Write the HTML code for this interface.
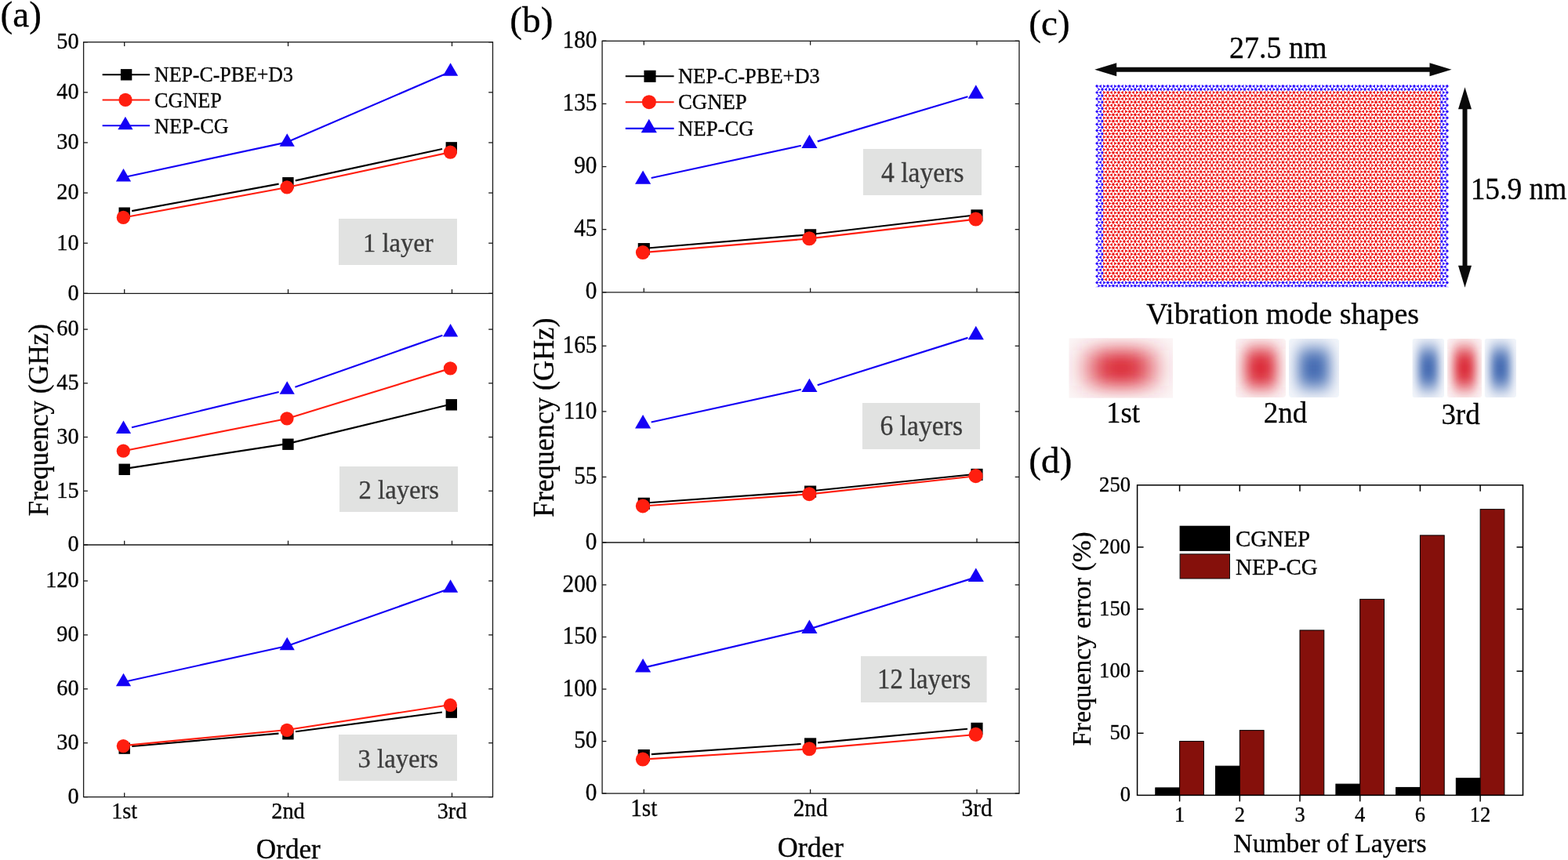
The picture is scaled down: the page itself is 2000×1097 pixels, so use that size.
<!DOCTYPE html>
<html><head><meta charset="utf-8"><title>Figure</title>
<style>html,body{margin:0;padding:0;background:#fff;}svg{display:block}text{font-family:"Liberation Serif", serif;stroke-width:0.3px;paint-order:stroke fill;}</style></head>
<body><svg width="2000" height="1097" viewBox="0 0 2000 1097">
<rect width="2000" height="1097" fill="#fff"/>
<defs><path id="lrow" d="M0.00,2.64v2.80M2.28,1.32l2.42,1.40M2.28,-1.32l2.42,-1.40M-4.70,-2.72l2.42,1.40M-4.70,2.72l2.42,-1.40M13.96,2.64v2.80M16.24,1.32l2.42,1.40M16.24,-1.32l2.42,-1.40M9.26,-2.72l2.42,1.40M9.26,2.72l2.42,-1.40M27.92,2.64v2.80M30.20,1.32l2.42,1.40M30.20,-1.32l2.42,-1.40M23.22,-2.72l2.42,1.40M23.22,2.72l2.42,-1.40M41.89,2.64v2.80M44.16,1.32l2.42,1.40M44.16,-1.32l2.42,-1.40M37.18,-2.72l2.42,1.40M37.18,2.72l2.42,-1.40M55.85,2.64v2.80M58.13,1.32l2.42,1.40M58.13,-1.32l2.42,-1.40M51.15,-2.72l2.42,1.40M51.15,2.72l2.42,-1.40M69.81,2.64v2.80M72.09,1.32l2.42,1.40M72.09,-1.32l2.42,-1.40M65.11,-2.72l2.42,1.40M65.11,2.72l2.42,-1.40M83.77,2.64v2.80M86.05,1.32l2.42,1.40M86.05,-1.32l2.42,-1.40M79.07,-2.72l2.42,1.40M79.07,2.72l2.42,-1.40M97.73,2.64v2.80M100.01,1.32l2.42,1.40M100.01,-1.32l2.42,-1.40M93.03,-2.72l2.42,1.40M93.03,2.72l2.42,-1.40M111.70,2.64v2.80M113.97,1.32l2.42,1.40M113.97,-1.32l2.42,-1.40M106.99,-2.72l2.42,1.40M106.99,2.72l2.42,-1.40M125.66,2.64v2.80M127.94,1.32l2.42,1.40M127.94,-1.32l2.42,-1.40M120.96,-2.72l2.42,1.40M120.96,2.72l2.42,-1.40M139.62,2.64v2.80M141.90,1.32l2.42,1.40M141.90,-1.32l2.42,-1.40M134.92,-2.72l2.42,1.40M134.92,2.72l2.42,-1.40M153.58,2.64v2.80M155.86,1.32l2.42,1.40M155.86,-1.32l2.42,-1.40M148.88,-2.72l2.42,1.40M148.88,2.72l2.42,-1.40M167.54,2.64v2.80M169.82,1.32l2.42,1.40M169.82,-1.32l2.42,-1.40M162.84,-2.72l2.42,1.40M162.84,2.72l2.42,-1.40M181.51,2.64v2.80M183.78,1.32l2.42,1.40M183.78,-1.32l2.42,-1.40M176.80,-2.72l2.42,1.40M176.80,2.72l2.42,-1.40M195.47,2.64v2.80M197.75,1.32l2.42,1.40M197.75,-1.32l2.42,-1.40M190.77,-2.72l2.42,1.40M190.77,2.72l2.42,-1.40M209.43,2.64v2.80M211.71,1.32l2.42,1.40M211.71,-1.32l2.42,-1.40M204.73,-2.72l2.42,1.40M204.73,2.72l2.42,-1.40M223.39,2.64v2.80M225.67,1.32l2.42,1.40M225.67,-1.32l2.42,-1.40M218.69,-2.72l2.42,1.40M218.69,2.72l2.42,-1.40M237.35,2.64v2.80M239.63,1.32l2.42,1.40M239.63,-1.32l2.42,-1.40M232.65,-2.72l2.42,1.40M232.65,2.72l2.42,-1.40M251.32,2.64v2.80M253.59,1.32l2.42,1.40M253.59,-1.32l2.42,-1.40M246.61,-2.72l2.42,1.40M246.61,2.72l2.42,-1.40M265.28,2.64v2.80M267.56,1.32l2.42,1.40M267.56,-1.32l2.42,-1.40M260.58,-2.72l2.42,1.40M260.58,2.72l2.42,-1.40M279.24,2.64v2.80M281.52,1.32l2.42,1.40M281.52,-1.32l2.42,-1.40M274.54,-2.72l2.42,1.40M274.54,2.72l2.42,-1.40M293.20,2.64v2.80M295.48,1.32l2.42,1.40M295.48,-1.32l2.42,-1.40M288.50,-2.72l2.42,1.40M288.50,2.72l2.42,-1.40M307.16,2.64v2.80M309.44,1.32l2.42,1.40M309.44,-1.32l2.42,-1.40M302.46,-2.72l2.42,1.40M302.46,2.72l2.42,-1.40M321.13,2.64v2.80M323.40,1.32l2.42,1.40M323.40,-1.32l2.42,-1.40M316.42,-2.72l2.42,1.40M316.42,2.72l2.42,-1.40M335.09,2.64v2.80M337.37,1.32l2.42,1.40M337.37,-1.32l2.42,-1.40M330.39,-2.72l2.42,1.40M330.39,2.72l2.42,-1.40M349.05,2.64v2.80M351.33,1.32l2.42,1.40M351.33,-1.32l2.42,-1.40M344.35,-2.72l2.42,1.40M344.35,2.72l2.42,-1.40M363.01,2.64v2.80M365.29,1.32l2.42,1.40M365.29,-1.32l2.42,-1.40M358.31,-2.72l2.42,1.40M358.31,2.72l2.42,-1.40M376.97,2.64v2.80M379.25,1.32l2.42,1.40M379.25,-1.32l2.42,-1.40M372.27,-2.72l2.42,1.40M372.27,2.72l2.42,-1.40M390.94,2.64v2.80M393.21,1.32l2.42,1.40M393.21,-1.32l2.42,-1.40M386.23,-2.72l2.42,1.40M386.23,2.72l2.42,-1.40M404.90,2.64v2.80M407.18,1.32l2.42,1.40M407.18,-1.32l2.42,-1.40M400.20,-2.72l2.42,1.40M400.20,2.72l2.42,-1.40M418.86,2.64v2.80M421.14,1.32l2.42,1.40M421.14,-1.32l2.42,-1.40M414.16,-2.72l2.42,1.40M414.16,2.72l2.42,-1.40M432.82,2.64v2.80M435.10,1.32l2.42,1.40M435.10,-1.32l2.42,-1.40M428.12,-2.72l2.42,1.40M428.12,2.72l2.42,-1.40M446.78,2.64v2.80M449.06,1.32l2.42,1.40M449.06,-1.32l2.42,-1.40M442.08,-2.72l2.42,1.40M442.08,2.72l2.42,-1.40M460.75,2.64v2.80M463.02,1.32l2.42,1.40M463.02,-1.32l2.42,-1.40M456.04,-2.72l2.42,1.40M456.04,2.72l2.42,-1.40M474.71,2.64v2.80M476.99,1.32l2.42,1.40M476.99,-1.32l2.42,-1.40M470.01,-2.72l2.42,1.40M470.01,2.72l2.42,-1.40M488.67,2.64v2.80M490.95,1.32l2.42,1.40M490.95,-1.32l2.42,-1.40M483.97,-2.72l2.42,1.40M483.97,2.72l2.42,-1.40" stroke="#fff" stroke-width="2.35" stroke-linecap="round" fill="none"/><clipPath id="lclip"><polygon points="1397.00,107.90 1848.30,107.90 1848.30,109.95 1844.10,113.99 1848.30,118.03 1844.10,122.08 1848.30,126.12 1844.10,130.16 1848.30,134.20 1844.10,138.24 1848.30,142.29 1844.10,146.33 1848.30,150.37 1844.10,154.41 1848.30,158.45 1844.10,162.50 1848.30,166.54 1844.10,170.58 1848.30,174.62 1844.10,178.66 1848.30,182.71 1844.10,186.75 1848.30,190.79 1844.10,194.83 1848.30,198.87 1844.10,202.92 1848.30,206.96 1844.10,211.00 1848.30,215.04 1844.10,219.08 1848.30,223.13 1844.10,227.17 1848.30,231.21 1844.10,235.25 1848.30,239.29 1844.10,243.34 1848.30,247.38 1844.10,251.42 1848.30,255.46 1844.10,259.50 1848.30,263.55 1844.10,267.59 1848.30,271.63 1844.10,275.67 1848.30,279.71 1844.10,283.76 1848.30,287.80 1844.10,291.84 1848.30,295.88 1844.10,299.92 1848.30,303.97 1844.10,308.01 1848.30,312.05 1844.10,316.09 1848.30,320.13 1844.10,324.18 1848.30,328.22 1844.10,332.26 1848.30,336.30 1844.10,340.34 1848.30,344.39 1844.10,348.43 1848.30,352.47 1844.10,356.51 1848.30,360.55 1844.10,364.60 1848.30,366.50 1397.00,366.50 1401.20,364.60 1397.00,360.55 1401.20,356.51 1397.00,352.47 1401.20,348.43 1397.00,344.39 1401.20,340.34 1397.00,336.30 1401.20,332.26 1397.00,328.22 1401.20,324.18 1397.00,320.13 1401.20,316.09 1397.00,312.05 1401.20,308.01 1397.00,303.97 1401.20,299.92 1397.00,295.88 1401.20,291.84 1397.00,287.80 1401.20,283.76 1397.00,279.71 1401.20,275.67 1397.00,271.63 1401.20,267.59 1397.00,263.55 1401.20,259.50 1397.00,255.46 1401.20,251.42 1397.00,247.38 1401.20,243.34 1397.00,239.29 1401.20,235.25 1397.00,231.21 1401.20,227.17 1397.00,223.13 1401.20,219.08 1397.00,215.04 1401.20,211.00 1397.00,206.96 1401.20,202.92 1397.00,198.87 1401.20,194.83 1397.00,190.79 1401.20,186.75 1397.00,182.71 1401.20,178.66 1397.00,174.62 1401.20,170.58 1397.00,166.54 1401.20,162.50 1397.00,158.45 1401.20,154.41 1397.00,150.37 1401.20,146.33 1397.00,142.29 1401.20,138.24 1397.00,134.20 1401.20,130.16 1397.00,126.12 1401.20,122.08 1397.00,118.03 1401.20,113.99 1397.00,109.95"/></clipPath><path id="lrow2" d="M6.98,6.68v2.80M20.94,6.68v2.80M34.91,6.68v2.80M48.87,6.68v2.80M62.83,6.68v2.80M76.79,6.68v2.80M90.75,6.68v2.80M104.71,6.68v2.80M118.68,6.68v2.80M132.64,6.68v2.80M146.60,6.68v2.80M160.56,6.68v2.80M174.52,6.68v2.80M188.49,6.68v2.80M202.45,6.68v2.80M216.41,6.68v2.80M230.37,6.68v2.80M244.33,6.68v2.80M258.30,6.68v2.80M272.26,6.68v2.80M286.22,6.68v2.80M300.18,6.68v2.80M314.14,6.68v2.80M328.11,6.68v2.80M342.07,6.68v2.80M356.03,6.68v2.80M369.99,6.68v2.80M383.95,6.68v2.80M397.92,6.68v2.80M411.88,6.68v2.80M425.84,6.68v2.80M439.80,6.68v2.80M453.76,6.68v2.80M467.73,6.68v2.80M481.69,6.68v2.80M495.65,6.68v2.80" stroke="#fff" stroke-width="2.35" stroke-linecap="round" fill="none"/><clipPath id="bc1"><rect x="1363.3" y="431.3" width="132.70" height="76.50" rx="0"/></clipPath><filter id="bf1" filterUnits="userSpaceOnUse" x="1343.3" y="411.3" width="172.70" height="116.50"><feGaussianBlur stdDeviation="17.25 12.24"/></filter><clipPath id="bc2"><rect x="1576" y="432" width="64.00" height="75.00" rx="4"/></clipPath><filter id="bf2" filterUnits="userSpaceOnUse" x="1556" y="412" width="104.00" height="115.00"><feGaussianBlur stdDeviation="9.28 11.25"/></filter><clipPath id="bc3"><rect x="1644" y="432" width="64.00" height="75.00" rx="4"/></clipPath><filter id="bf3" filterUnits="userSpaceOnUse" x="1624" y="412" width="104.00" height="115.00"><feGaussianBlur stdDeviation="9.28 11.25"/></filter><clipPath id="bc4"><rect x="1801.4" y="432" width="40.60" height="75.00" rx="3"/></clipPath><filter id="bf4" filterUnits="userSpaceOnUse" x="1781.4" y="412" width="80.60" height="115.00"><feGaussianBlur stdDeviation="5.89 11.25"/></filter><clipPath id="bc5"><rect x="1846" y="432" width="44.00" height="75.00" rx="3"/></clipPath><filter id="bf5" filterUnits="userSpaceOnUse" x="1826" y="412" width="84.00" height="115.00"><feGaussianBlur stdDeviation="6.38 11.25"/></filter><clipPath id="bc6"><rect x="1893.6" y="432" width="40.40" height="75.00" rx="3"/></clipPath><filter id="bf6" filterUnits="userSpaceOnUse" x="1873.6" y="412" width="80.40" height="115.00"><feGaussianBlur stdDeviation="5.86 11.25"/></filter></defs>
<line x1="106.60" y1="374.30" x2="111.90" y2="374.30" stroke="#1a1a1a" stroke-width="1.3" />
<line x1="623.20" y1="374.30" x2="628.50" y2="374.30" stroke="#1a1a1a" stroke-width="1.3" />
<text transform="translate(100.60,382.64) scale(0.96,1)" font-size="29.5" text-anchor="end" fill="#000" stroke="#000" >0</text>
<line x1="106.60" y1="310.18" x2="111.90" y2="310.18" stroke="#1a1a1a" stroke-width="1.3" />
<line x1="623.20" y1="310.18" x2="628.50" y2="310.18" stroke="#1a1a1a" stroke-width="1.3" />
<text transform="translate(100.60,318.52) scale(0.96,1)" font-size="29.5" text-anchor="end" fill="#000" stroke="#000" >10</text>
<line x1="106.60" y1="246.06" x2="111.90" y2="246.06" stroke="#1a1a1a" stroke-width="1.3" />
<line x1="623.20" y1="246.06" x2="628.50" y2="246.06" stroke="#1a1a1a" stroke-width="1.3" />
<text transform="translate(100.60,254.40) scale(0.96,1)" font-size="29.5" text-anchor="end" fill="#000" stroke="#000" >20</text>
<line x1="106.60" y1="181.94" x2="111.90" y2="181.94" stroke="#1a1a1a" stroke-width="1.3" />
<line x1="623.20" y1="181.94" x2="628.50" y2="181.94" stroke="#1a1a1a" stroke-width="1.3" />
<text transform="translate(100.60,190.28) scale(0.96,1)" font-size="29.5" text-anchor="end" fill="#000" stroke="#000" >30</text>
<line x1="106.60" y1="117.82" x2="111.90" y2="117.82" stroke="#1a1a1a" stroke-width="1.3" />
<line x1="623.20" y1="117.82" x2="628.50" y2="117.82" stroke="#1a1a1a" stroke-width="1.3" />
<text transform="translate(100.60,126.15) scale(0.96,1)" font-size="29.5" text-anchor="end" fill="#000" stroke="#000" >40</text>
<line x1="106.60" y1="53.70" x2="111.90" y2="53.70" stroke="#1a1a1a" stroke-width="1.3" />
<line x1="623.20" y1="53.70" x2="628.50" y2="53.70" stroke="#1a1a1a" stroke-width="1.3" />
<text transform="translate(100.60,62.03) scale(0.96,1)" font-size="29.5" text-anchor="end" fill="#000" stroke="#000" >50</text>
<line x1="158.70" y1="369.00" x2="158.70" y2="374.30" stroke="#1a1a1a" stroke-width="1.3" />
<line x1="158.70" y1="53.70" x2="158.70" y2="59.00" stroke="#1a1a1a" stroke-width="1.3" />
<line x1="367.50" y1="369.00" x2="367.50" y2="374.30" stroke="#1a1a1a" stroke-width="1.3" />
<line x1="367.50" y1="53.70" x2="367.50" y2="59.00" stroke="#1a1a1a" stroke-width="1.3" />
<line x1="576.50" y1="369.00" x2="576.50" y2="374.30" stroke="#1a1a1a" stroke-width="1.3" />
<line x1="576.50" y1="53.70" x2="576.50" y2="59.00" stroke="#1a1a1a" stroke-width="1.3" />
<line x1="168.12" y1="269.15" x2="355.58" y2="234.59" stroke="#000" stroke-width="2.15" />
<line x1="376.76" y1="230.36" x2="564.04" y2="190.03" stroke="#000" stroke-width="2.15" />
<rect x="151.50" y="264.51" width="14.40" height="14.40" fill="#000"/>
<rect x="360.20" y="226.04" width="14.40" height="14.40" fill="#000"/>
<rect x="568.60" y="181.15" width="14.40" height="14.40" fill="#000"/>
<line x1="157.50" y1="277.52" x2="366.20" y2="239.05" stroke="#ff1e0f" stroke-width="2.15" />
<line x1="366.20" y1="239.05" x2="574.60" y2="194.16" stroke="#ff1e0f" stroke-width="2.15" />
<circle cx="157.30" cy="277.42" r="8.60" fill="#ff1e0f"/>
<circle cx="366.00" cy="238.95" r="8.60" fill="#ff1e0f"/>
<circle cx="574.40" cy="194.06" r="8.60" fill="#ff1e0f"/>
<line x1="157.50" y1="226.22" x2="366.20" y2="181.34" stroke="#1400f5" stroke-width="2.15" />
<line x1="366.20" y1="181.34" x2="574.60" y2="91.57" stroke="#1400f5" stroke-width="2.15" />
<polygon points="157.50,215.02 167.10,231.52 147.90,231.52" fill="#1400f5"/>
<polygon points="366.20,170.14 375.80,186.64 356.60,186.64" fill="#1400f5"/>
<polygon points="574.60,80.37 584.20,96.87 565.00,96.87" fill="#1400f5"/>
<rect x="432" y="279" width="151" height="59" fill="#e1e2e1"/>
<text transform="translate(507.80,320.50) scale(0.96,1)" font-size="34" text-anchor="middle" fill="#3c3c3c" stroke="#3c3c3c" >1 layer</text>
<line x1="106.60" y1="695.00" x2="111.90" y2="695.00" stroke="#1a1a1a" stroke-width="1.3" />
<line x1="623.20" y1="695.00" x2="628.50" y2="695.00" stroke="#1a1a1a" stroke-width="1.3" />
<text transform="translate(100.60,703.34) scale(0.96,1)" font-size="29.5" text-anchor="end" fill="#000" stroke="#000" >0</text>
<line x1="106.60" y1="626.27" x2="111.90" y2="626.27" stroke="#1a1a1a" stroke-width="1.3" />
<line x1="623.20" y1="626.27" x2="628.50" y2="626.27" stroke="#1a1a1a" stroke-width="1.3" />
<text transform="translate(100.60,634.61) scale(0.96,1)" font-size="29.5" text-anchor="end" fill="#000" stroke="#000" >15</text>
<line x1="106.60" y1="557.55" x2="111.90" y2="557.55" stroke="#1a1a1a" stroke-width="1.3" />
<line x1="623.20" y1="557.55" x2="628.50" y2="557.55" stroke="#1a1a1a" stroke-width="1.3" />
<text transform="translate(100.60,565.88) scale(0.96,1)" font-size="29.5" text-anchor="end" fill="#000" stroke="#000" >30</text>
<line x1="106.60" y1="488.83" x2="111.90" y2="488.83" stroke="#1a1a1a" stroke-width="1.3" />
<line x1="623.20" y1="488.83" x2="628.50" y2="488.83" stroke="#1a1a1a" stroke-width="1.3" />
<text transform="translate(100.60,497.16) scale(0.96,1)" font-size="29.5" text-anchor="end" fill="#000" stroke="#000" >45</text>
<line x1="106.60" y1="420.10" x2="111.90" y2="420.10" stroke="#1a1a1a" stroke-width="1.3" />
<line x1="623.20" y1="420.10" x2="628.50" y2="420.10" stroke="#1a1a1a" stroke-width="1.3" />
<text transform="translate(100.60,428.44) scale(0.96,1)" font-size="29.5" text-anchor="end" fill="#000" stroke="#000" >60</text>
<line x1="158.70" y1="689.70" x2="158.70" y2="695.00" stroke="#1a1a1a" stroke-width="1.3" />
<line x1="367.50" y1="689.70" x2="367.50" y2="695.00" stroke="#1a1a1a" stroke-width="1.3" />
<line x1="576.50" y1="689.70" x2="576.50" y2="695.00" stroke="#1a1a1a" stroke-width="1.3" />
<line x1="157.50" y1="598.18" x2="366.20" y2="566.11" stroke="#000" stroke-width="2.15" />
<line x1="366.20" y1="566.11" x2="574.60" y2="515.72" stroke="#000" stroke-width="2.15" />
<rect x="151.50" y="591.58" width="14.40" height="14.40" fill="#000"/>
<rect x="360.20" y="559.51" width="14.40" height="14.40" fill="#000"/>
<rect x="568.60" y="509.12" width="14.40" height="14.40" fill="#000"/>
<line x1="157.50" y1="575.28" x2="366.20" y2="534.04" stroke="#ff1e0f" stroke-width="2.15" />
<line x1="366.20" y1="534.04" x2="574.60" y2="469.90" stroke="#ff1e0f" stroke-width="2.15" />
<circle cx="157.30" cy="575.18" r="8.60" fill="#ff1e0f"/>
<circle cx="366.00" cy="533.94" r="8.60" fill="#ff1e0f"/>
<circle cx="574.40" cy="469.80" r="8.60" fill="#ff1e0f"/>
<line x1="168.00" y1="545.25" x2="355.70" y2="499.92" stroke="#1400f5" stroke-width="2.15" />
<line x1="376.39" y1="493.80" x2="564.41" y2="427.67" stroke="#1400f5" stroke-width="2.15" />
<polygon points="157.50,536.59 167.10,553.09 147.90,553.09" fill="#1400f5"/>
<polygon points="366.20,486.19 375.80,502.69 356.60,502.69" fill="#1400f5"/>
<polygon points="574.60,412.88 584.20,429.38 565.00,429.38" fill="#1400f5"/>
<rect x="433" y="595" width="151" height="58" fill="#e1e2e1"/>
<text transform="translate(508.80,636.00) scale(0.96,1)" font-size="34" text-anchor="middle" fill="#3c3c3c" stroke="#3c3c3c" >2 layers</text>
<line x1="106.60" y1="1016.60" x2="111.90" y2="1016.60" stroke="#1a1a1a" stroke-width="1.3" />
<line x1="623.20" y1="1016.60" x2="628.50" y2="1016.60" stroke="#1a1a1a" stroke-width="1.3" />
<text transform="translate(100.60,1024.93) scale(0.96,1)" font-size="29.5" text-anchor="end" fill="#000" stroke="#000" >0</text>
<line x1="106.60" y1="947.70" x2="111.90" y2="947.70" stroke="#1a1a1a" stroke-width="1.3" />
<line x1="623.20" y1="947.70" x2="628.50" y2="947.70" stroke="#1a1a1a" stroke-width="1.3" />
<text transform="translate(100.60,956.04) scale(0.96,1)" font-size="29.5" text-anchor="end" fill="#000" stroke="#000" >30</text>
<line x1="106.60" y1="878.80" x2="111.90" y2="878.80" stroke="#1a1a1a" stroke-width="1.3" />
<line x1="623.20" y1="878.80" x2="628.50" y2="878.80" stroke="#1a1a1a" stroke-width="1.3" />
<text transform="translate(100.60,887.13) scale(0.96,1)" font-size="29.5" text-anchor="end" fill="#000" stroke="#000" >60</text>
<line x1="106.60" y1="809.90" x2="111.90" y2="809.90" stroke="#1a1a1a" stroke-width="1.3" />
<line x1="623.20" y1="809.90" x2="628.50" y2="809.90" stroke="#1a1a1a" stroke-width="1.3" />
<text transform="translate(100.60,818.24) scale(0.96,1)" font-size="29.5" text-anchor="end" fill="#000" stroke="#000" >90</text>
<line x1="106.60" y1="741.00" x2="111.90" y2="741.00" stroke="#1a1a1a" stroke-width="1.3" />
<line x1="623.20" y1="741.00" x2="628.50" y2="741.00" stroke="#1a1a1a" stroke-width="1.3" />
<text transform="translate(100.60,749.34) scale(0.96,1)" font-size="29.5" text-anchor="end" fill="#000" stroke="#000" >120</text>
<line x1="158.70" y1="1011.30" x2="158.70" y2="1016.60" stroke="#1a1a1a" stroke-width="1.3" />
<line x1="367.50" y1="1011.30" x2="367.50" y2="1016.60" stroke="#1a1a1a" stroke-width="1.3" />
<line x1="576.50" y1="1011.30" x2="576.50" y2="1016.60" stroke="#1a1a1a" stroke-width="1.3" />
<line x1="168.26" y1="952.04" x2="355.44" y2="935.56" stroke="#000" stroke-width="2.15" />
<line x1="376.91" y1="933.20" x2="563.89" y2="908.47" stroke="#000" stroke-width="2.15" />
<rect x="151.50" y="947.39" width="14.40" height="14.40" fill="#000"/>
<rect x="360.20" y="929.02" width="14.40" height="14.40" fill="#000"/>
<rect x="568.60" y="901.46" width="14.40" height="14.40" fill="#000"/>
<line x1="157.50" y1="951.19" x2="366.20" y2="930.98" stroke="#ff1e0f" stroke-width="2.15" />
<line x1="366.20" y1="930.98" x2="574.60" y2="899.06" stroke="#ff1e0f" stroke-width="2.15" />
<circle cx="157.30" cy="951.59" r="8.60" fill="#ff1e0f"/>
<circle cx="366.00" cy="931.38" r="8.60" fill="#ff1e0f"/>
<circle cx="574.40" cy="899.46" r="8.60" fill="#ff1e0f"/>
<line x1="157.50" y1="869.93" x2="366.20" y2="824.00" stroke="#1400f5" stroke-width="2.15" />
<line x1="366.20" y1="824.00" x2="574.60" y2="750.51" stroke="#1400f5" stroke-width="2.15" />
<polygon points="157.50,858.73 167.10,875.23 147.90,875.23" fill="#1400f5"/>
<polygon points="366.20,812.80 375.80,829.30 356.60,829.30" fill="#1400f5"/>
<polygon points="574.60,739.31 584.20,755.81 565.00,755.81" fill="#1400f5"/>
<rect x="432" y="937" width="151" height="59" fill="#e1e2e1"/>
<text transform="translate(507.80,978.50) scale(0.96,1)" font-size="34" text-anchor="middle" fill="#3c3c3c" stroke="#3c3c3c" >3 layers</text>
<rect x="106.6" y="53.7" width="521.9" height="962.9" fill="none" stroke="#1a1a1a" stroke-width="1.3"/>
<line x1="106.60" y1="374.30" x2="628.50" y2="374.30" stroke="#1a1a1a" stroke-width="1.3" />
<line x1="106.60" y1="695.00" x2="628.50" y2="695.00" stroke="#1a1a1a" stroke-width="1.3" />
<text transform="translate(158.70,1044.40) scale(0.96,1)" font-size="29.5" text-anchor="middle" fill="#000" stroke="#000" >1st</text>
<text transform="translate(367.50,1044.40) scale(0.96,1)" font-size="29.5" text-anchor="middle" fill="#000" stroke="#000" >2nd</text>
<text transform="translate(576.50,1044.40) scale(0.96,1)" font-size="29.5" text-anchor="middle" fill="#000" stroke="#000" >3rd</text>
<text transform="translate(367.80,1094.70) scale(0.99,1)" font-size="35.5" text-anchor="middle" fill="#000" stroke="#000" >Order</text>
<text transform="translate(61,535.7) rotate(-90) scale(0.956,1)" font-size="36.5" text-anchor="middle" stroke="#000">Frequency (GHz)</text>
<line x1="130.60" y1="95.30" x2="191.00" y2="95.30" stroke="#000" stroke-width="2.1" />
<rect x="153.90" y="88.10" width="14.40" height="14.40" fill="#000"/>
<text transform="translate(197.00,104.01) scale(0.947,1)" font-size="27.3" text-anchor="start" fill="#000" stroke="#000" >NEP-C-PBE+D3</text>
<line x1="130.60" y1="127.50" x2="191.00" y2="127.50" stroke="#ff1e0f" stroke-width="2.1" />
<circle cx="160.00" cy="127.40" r="8.60" fill="#ff1e0f"/>
<text transform="translate(197.00,136.61) scale(0.96,1)" font-size="27.3" text-anchor="start" fill="#000" stroke="#000" >CGNEP</text>
<line x1="130.60" y1="160.30" x2="191.00" y2="160.30" stroke="#1400f5" stroke-width="2.1" />
<polygon points="159.90,148.80 169.50,165.30 150.30,165.30" fill="#1400f5"/>
<text transform="translate(197.00,169.71) scale(0.96,1)" font-size="27.3" text-anchor="start" fill="#000" stroke="#000" >NEP-CG</text>
<text transform="translate(0.50,34.20) scale(1.01,1)" font-size="46.8" text-anchor="start" fill="#000" stroke="#000" >(a)</text>
<line x1="768.10" y1="372.80" x2="773.40" y2="372.80" stroke="#1a1a1a" stroke-width="1.3" />
<line x1="1294.70" y1="372.80" x2="1300.00" y2="372.80" stroke="#1a1a1a" stroke-width="1.3" />
<text transform="translate(761.50,381.47) scale(0.96,1)" font-size="30.5" text-anchor="end" fill="#000" stroke="#000" >0</text>
<line x1="768.10" y1="292.68" x2="773.40" y2="292.68" stroke="#1a1a1a" stroke-width="1.3" />
<line x1="1294.70" y1="292.68" x2="1300.00" y2="292.68" stroke="#1a1a1a" stroke-width="1.3" />
<text transform="translate(761.50,301.34) scale(0.96,1)" font-size="30.5" text-anchor="end" fill="#000" stroke="#000" >45</text>
<line x1="768.10" y1="212.55" x2="773.40" y2="212.55" stroke="#1a1a1a" stroke-width="1.3" />
<line x1="1294.70" y1="212.55" x2="1300.00" y2="212.55" stroke="#1a1a1a" stroke-width="1.3" />
<text transform="translate(761.50,221.22) scale(0.96,1)" font-size="30.5" text-anchor="end" fill="#000" stroke="#000" >90</text>
<line x1="768.10" y1="132.43" x2="773.40" y2="132.43" stroke="#1a1a1a" stroke-width="1.3" />
<line x1="1294.70" y1="132.43" x2="1300.00" y2="132.43" stroke="#1a1a1a" stroke-width="1.3" />
<text transform="translate(761.50,141.09) scale(0.96,1)" font-size="30.5" text-anchor="end" fill="#000" stroke="#000" >135</text>
<line x1="768.10" y1="52.30" x2="773.40" y2="52.30" stroke="#1a1a1a" stroke-width="1.3" />
<line x1="1294.70" y1="52.30" x2="1300.00" y2="52.30" stroke="#1a1a1a" stroke-width="1.3" />
<text transform="translate(761.50,60.97) scale(0.96,1)" font-size="30.5" text-anchor="end" fill="#000" stroke="#000" >180</text>
<line x1="821.30" y1="367.50" x2="821.30" y2="372.80" stroke="#1a1a1a" stroke-width="1.3" />
<line x1="821.30" y1="52.30" x2="821.30" y2="57.60" stroke="#1a1a1a" stroke-width="1.3" />
<line x1="1033.60" y1="367.50" x2="1033.60" y2="372.80" stroke="#1a1a1a" stroke-width="1.3" />
<line x1="1033.60" y1="52.30" x2="1033.60" y2="57.60" stroke="#1a1a1a" stroke-width="1.3" />
<line x1="1246.00" y1="367.50" x2="1246.00" y2="372.80" stroke="#1a1a1a" stroke-width="1.3" />
<line x1="1246.00" y1="52.30" x2="1246.00" y2="57.60" stroke="#1a1a1a" stroke-width="1.3" />
<line x1="820.10" y1="317.00" x2="1032.40" y2="299.20" stroke="#000" stroke-width="2.15" />
<line x1="1032.40" y1="299.20" x2="1244.80" y2="274.27" stroke="#000" stroke-width="2.15" />
<rect x="813.74" y="310.04" width="15.12" height="15.12" fill="#000"/>
<rect x="1026.04" y="292.24" width="15.12" height="15.12" fill="#000"/>
<rect x="1238.44" y="267.31" width="15.12" height="15.12" fill="#000"/>
<line x1="820.10" y1="322.17" x2="1032.40" y2="304.36" stroke="#ff1e0f" stroke-width="2.15" />
<line x1="1032.40" y1="304.36" x2="1244.80" y2="279.61" stroke="#ff1e0f" stroke-width="2.15" />
<circle cx="819.90" cy="322.07" r="9.03" fill="#ff1e0f"/>
<circle cx="1032.20" cy="304.26" r="9.03" fill="#ff1e0f"/>
<circle cx="1244.60" cy="279.51" r="9.03" fill="#ff1e0f"/>
<line x1="830.66" y1="226.95" x2="1021.84" y2="185.74" stroke="#1400f5" stroke-width="2.15" />
<line x1="1042.75" y1="180.37" x2="1234.45" y2="123.16" stroke="#1400f5" stroke-width="2.15" />
<polygon points="820.10,217.46 830.18,234.79 810.02,234.79" fill="#1400f5"/>
<polygon points="1032.40,171.70 1042.48,189.03 1022.32,189.03" fill="#1400f5"/>
<polygon points="1244.80,108.31 1254.88,125.64 1234.72,125.64" fill="#1400f5"/>
<rect x="1101" y="190" width="151" height="59" fill="#e1e2e1"/>
<text transform="translate(1176.80,232.30) scale(0.96,1)" font-size="35" text-anchor="middle" fill="#3c3c3c" stroke="#3c3c3c" >4 layers</text>
<line x1="768.10" y1="692.00" x2="773.40" y2="692.00" stroke="#1a1a1a" stroke-width="1.3" />
<line x1="1294.70" y1="692.00" x2="1300.00" y2="692.00" stroke="#1a1a1a" stroke-width="1.3" />
<text transform="translate(761.50,700.67) scale(0.96,1)" font-size="30.5" text-anchor="end" fill="#000" stroke="#000" >0</text>
<line x1="768.10" y1="608.43" x2="773.40" y2="608.43" stroke="#1a1a1a" stroke-width="1.3" />
<line x1="1294.70" y1="608.43" x2="1300.00" y2="608.43" stroke="#1a1a1a" stroke-width="1.3" />
<text transform="translate(761.50,617.10) scale(0.96,1)" font-size="30.5" text-anchor="end" fill="#000" stroke="#000" >55</text>
<line x1="768.10" y1="524.87" x2="773.40" y2="524.87" stroke="#1a1a1a" stroke-width="1.3" />
<line x1="1294.70" y1="524.87" x2="1300.00" y2="524.87" stroke="#1a1a1a" stroke-width="1.3" />
<text transform="translate(761.50,533.53) scale(0.96,1)" font-size="30.5" text-anchor="end" fill="#000" stroke="#000" >110</text>
<line x1="768.10" y1="441.30" x2="773.40" y2="441.30" stroke="#1a1a1a" stroke-width="1.3" />
<line x1="1294.70" y1="441.30" x2="1300.00" y2="441.30" stroke="#1a1a1a" stroke-width="1.3" />
<text transform="translate(761.50,449.97) scale(0.96,1)" font-size="30.5" text-anchor="end" fill="#000" stroke="#000" >165</text>
<line x1="821.30" y1="686.70" x2="821.30" y2="692.00" stroke="#1a1a1a" stroke-width="1.3" />
<line x1="1033.60" y1="686.70" x2="1033.60" y2="692.00" stroke="#1a1a1a" stroke-width="1.3" />
<line x1="1246.00" y1="686.70" x2="1246.00" y2="692.00" stroke="#1a1a1a" stroke-width="1.3" />
<line x1="820.10" y1="641.72" x2="1032.40" y2="626.52" stroke="#000" stroke-width="2.15" />
<line x1="1032.40" y1="626.52" x2="1244.80" y2="604.79" stroke="#000" stroke-width="2.15" />
<rect x="813.74" y="634.76" width="15.12" height="15.12" fill="#000"/>
<rect x="1026.04" y="619.56" width="15.12" height="15.12" fill="#000"/>
<rect x="1238.44" y="597.83" width="15.12" height="15.12" fill="#000"/>
<line x1="820.10" y1="645.51" x2="1032.40" y2="630.32" stroke="#ff1e0f" stroke-width="2.15" />
<line x1="1032.40" y1="630.32" x2="1244.80" y2="607.23" stroke="#ff1e0f" stroke-width="2.15" />
<circle cx="819.90" cy="645.41" r="9.03" fill="#ff1e0f"/>
<circle cx="1032.20" cy="630.22" r="9.03" fill="#ff1e0f"/>
<circle cx="1244.60" cy="607.13" r="9.03" fill="#ff1e0f"/>
<line x1="830.65" y1="538.52" x2="1021.85" y2="496.79" stroke="#1400f5" stroke-width="2.15" />
<line x1="1042.70" y1="491.24" x2="1234.50" y2="430.88" stroke="#1400f5" stroke-width="2.15" />
<polygon points="820.10,529.07 830.18,546.39 810.02,546.39" fill="#1400f5"/>
<polygon points="1032.40,482.73 1042.48,500.05 1022.32,500.05" fill="#1400f5"/>
<polygon points="1244.80,415.87 1254.88,433.20 1234.72,433.20" fill="#1400f5"/>
<rect x="1100" y="514" width="150" height="59" fill="#e1e2e1"/>
<text transform="translate(1175.30,555.20) scale(0.96,1)" font-size="35" text-anchor="middle" fill="#3c3c3c" stroke="#3c3c3c" >6 layers</text>
<line x1="768.10" y1="1012.10" x2="773.40" y2="1012.10" stroke="#1a1a1a" stroke-width="1.3" />
<line x1="1294.70" y1="1012.10" x2="1300.00" y2="1012.10" stroke="#1a1a1a" stroke-width="1.3" />
<text transform="translate(761.50,1020.77) scale(0.96,1)" font-size="30.5" text-anchor="end" fill="#000" stroke="#000" >0</text>
<line x1="768.10" y1="945.58" x2="773.40" y2="945.58" stroke="#1a1a1a" stroke-width="1.3" />
<line x1="1294.70" y1="945.58" x2="1300.00" y2="945.58" stroke="#1a1a1a" stroke-width="1.3" />
<text transform="translate(761.50,954.24) scale(0.96,1)" font-size="30.5" text-anchor="end" fill="#000" stroke="#000" >50</text>
<line x1="768.10" y1="879.05" x2="773.40" y2="879.05" stroke="#1a1a1a" stroke-width="1.3" />
<line x1="1294.70" y1="879.05" x2="1300.00" y2="879.05" stroke="#1a1a1a" stroke-width="1.3" />
<text transform="translate(761.50,887.72) scale(0.96,1)" font-size="30.5" text-anchor="end" fill="#000" stroke="#000" >100</text>
<line x1="768.10" y1="812.53" x2="773.40" y2="812.53" stroke="#1a1a1a" stroke-width="1.3" />
<line x1="1294.70" y1="812.53" x2="1300.00" y2="812.53" stroke="#1a1a1a" stroke-width="1.3" />
<text transform="translate(761.50,821.19) scale(0.96,1)" font-size="30.5" text-anchor="end" fill="#000" stroke="#000" >150</text>
<line x1="768.10" y1="746.00" x2="773.40" y2="746.00" stroke="#1a1a1a" stroke-width="1.3" />
<line x1="1294.70" y1="746.00" x2="1300.00" y2="746.00" stroke="#1a1a1a" stroke-width="1.3" />
<text transform="translate(761.50,754.67) scale(0.96,1)" font-size="30.5" text-anchor="end" fill="#000" stroke="#000" >200</text>
<line x1="821.30" y1="1006.80" x2="821.30" y2="1012.10" stroke="#1a1a1a" stroke-width="1.3" />
<line x1="1033.60" y1="1006.80" x2="1033.60" y2="1012.10" stroke="#1a1a1a" stroke-width="1.3" />
<line x1="1246.00" y1="1006.80" x2="1246.00" y2="1012.10" stroke="#1a1a1a" stroke-width="1.3" />
<line x1="830.87" y1="962.19" x2="1021.63" y2="949.04" stroke="#000" stroke-width="2.15" />
<line x1="1043.15" y1="947.31" x2="1234.05" y2="929.73" stroke="#000" stroke-width="2.15" />
<rect x="813.74" y="955.98" width="15.12" height="15.12" fill="#000"/>
<rect x="1026.04" y="941.34" width="15.12" height="15.12" fill="#000"/>
<rect x="1238.44" y="921.78" width="15.12" height="15.12" fill="#000"/>
<line x1="820.10" y1="968.66" x2="1032.40" y2="955.35" stroke="#ff1e0f" stroke-width="2.15" />
<line x1="1032.40" y1="955.35" x2="1244.80" y2="936.99" stroke="#ff1e0f" stroke-width="2.15" />
<circle cx="819.90" cy="968.56" r="9.03" fill="#ff1e0f"/>
<circle cx="1032.20" cy="955.25" r="9.03" fill="#ff1e0f"/>
<circle cx="1244.60" cy="936.89" r="9.03" fill="#ff1e0f"/>
<line x1="820.10" y1="851.84" x2="1032.40" y2="802.35" stroke="#1400f5" stroke-width="2.15" />
<line x1="1032.40" y1="802.35" x2="1244.80" y2="736.35" stroke="#1400f5" stroke-width="2.15" />
<polygon points="820.10,840.08 830.18,857.41 810.02,857.41" fill="#1400f5"/>
<polygon points="1032.40,790.59 1042.48,807.91 1022.32,807.91" fill="#1400f5"/>
<polygon points="1244.80,724.59 1254.88,741.92 1234.72,741.92" fill="#1400f5"/>
<rect x="1098" y="837" width="160.5999999999999" height="59" fill="#e1e2e1"/>
<text transform="translate(1178.60,878.10) scale(0.935,1)" font-size="35" text-anchor="middle" fill="#3c3c3c" stroke="#3c3c3c" >12 layers</text>
<rect x="768.1" y="52.3" width="531.9" height="959.8000000000001" fill="none" stroke="#1a1a1a" stroke-width="1.3"/>
<line x1="768.10" y1="372.80" x2="1300.00" y2="372.80" stroke="#1a1a1a" stroke-width="1.3" />
<line x1="768.10" y1="692.00" x2="1300.00" y2="692.00" stroke="#1a1a1a" stroke-width="1.3" />
<text transform="translate(821.30,1040.60) scale(0.96,1)" font-size="30.5" text-anchor="middle" fill="#000" stroke="#000" >1st</text>
<text transform="translate(1033.60,1040.60) scale(0.96,1)" font-size="30.5" text-anchor="middle" fill="#000" stroke="#000" >2nd</text>
<text transform="translate(1246.00,1040.60) scale(0.96,1)" font-size="30.5" text-anchor="middle" fill="#000" stroke="#000" >3rd</text>
<text transform="translate(1033.80,1093.00) scale(0.99,1)" font-size="36.5" text-anchor="middle" fill="#000" stroke="#000" >Order</text>
<text transform="translate(706,532.6) rotate(-90) scale(0.965,1)" font-size="37.5" text-anchor="middle" stroke="#000">Frequency (GHz)</text>
<line x1="797.80" y1="97.30" x2="859.60" y2="97.30" stroke="#000" stroke-width="2.1" />
<rect x="821.44" y="89.74" width="15.12" height="15.12" fill="#000"/>
<text transform="translate(865.00,105.91) scale(0.947,1)" font-size="27.9" text-anchor="start" fill="#000" stroke="#000" >NEP-C-PBE+D3</text>
<line x1="797.80" y1="130.30" x2="859.60" y2="130.30" stroke="#ff1e0f" stroke-width="2.1" />
<circle cx="827.90" cy="130.20" r="9.03" fill="#ff1e0f"/>
<text transform="translate(865.00,139.31) scale(0.96,1)" font-size="27.9" text-anchor="start" fill="#000" stroke="#000" >CGNEP</text>
<line x1="797.80" y1="163.90" x2="859.60" y2="163.90" stroke="#1400f5" stroke-width="2.1" />
<polygon points="827.80,151.84 837.88,169.17 817.72,169.17" fill="#1400f5"/>
<text transform="translate(865.00,172.91) scale(0.96,1)" font-size="27.9" text-anchor="start" fill="#000" stroke="#000" >NEP-CG</text>
<text transform="translate(650.30,41.40) scale(1.01,1)" font-size="46.8" text-anchor="start" fill="#000" stroke="#000" >(b)</text>
<text transform="translate(1312.30,44.70) scale(1.01,1)" font-size="46.8" text-anchor="start" fill="#000" stroke="#000" >(c)</text>
<line x1="1423.2" y1="88.8" x2="1824.5" y2="88.8" stroke="#0a0a0a" stroke-width="6"/>
<polygon points="1396.2,88.8 1424.2,80.3 1424.2,97.3" fill="#0a0a0a"/>
<polygon points="1851.5,88.8 1823.5,80.3 1823.5,97.3" fill="#0a0a0a"/>
<line x1="1868.5" y1="138.2" x2="1868.5" y2="339.8" stroke="#0a0a0a" stroke-width="6"/>
<polygon points="1868.5,111.2 1860.0,139.2 1877.0,139.2" fill="#0a0a0a"/>
<polygon points="1868.5,366.8 1860.0,338.8 1877.0,338.8" fill="#0a0a0a"/>
<text transform="translate(1630.30,73.80) scale(0.975,1)" font-size="39" text-anchor="middle" fill="#000" stroke="#000" >27.5 nm</text>
<text transform="translate(1937.00,254.00) scale(0.96,1)" font-size="39" text-anchor="middle" fill="#000" stroke="#000" >15.9 nm</text>
<g clip-path="url(#lclip)">
<rect x="1397.0" y="107.9" width="451.29999999999995" height="258.6" fill="#2600ff"/>
<rect x="1407" y="116.1" width="430.1" height="242.4" fill="#ee0c0c"/>
<use href="#lrow" x="1385.08" y="101.87"/>
<use href="#lrow" x="1385.08" y="109.95"/>
<use href="#lrow" x="1385.08" y="118.03"/>
<use href="#lrow" x="1385.08" y="126.12"/>
<use href="#lrow" x="1385.08" y="134.20"/>
<use href="#lrow" x="1385.08" y="142.29"/>
<use href="#lrow" x="1385.08" y="150.37"/>
<use href="#lrow" x="1385.08" y="158.45"/>
<use href="#lrow" x="1385.08" y="166.54"/>
<use href="#lrow" x="1385.08" y="174.62"/>
<use href="#lrow" x="1385.08" y="182.71"/>
<use href="#lrow" x="1385.08" y="190.79"/>
<use href="#lrow" x="1385.08" y="198.87"/>
<use href="#lrow" x="1385.08" y="206.96"/>
<use href="#lrow" x="1385.08" y="215.04"/>
<use href="#lrow" x="1385.08" y="223.13"/>
<use href="#lrow" x="1385.08" y="231.21"/>
<use href="#lrow" x="1385.08" y="239.29"/>
<use href="#lrow" x="1385.08" y="247.38"/>
<use href="#lrow" x="1385.08" y="255.46"/>
<use href="#lrow" x="1385.08" y="263.55"/>
<use href="#lrow" x="1385.08" y="271.63"/>
<use href="#lrow" x="1385.08" y="279.71"/>
<use href="#lrow" x="1385.08" y="287.80"/>
<use href="#lrow" x="1385.08" y="295.88"/>
<use href="#lrow" x="1385.08" y="303.97"/>
<use href="#lrow" x="1385.08" y="312.05"/>
<use href="#lrow" x="1385.08" y="320.13"/>
<use href="#lrow" x="1385.08" y="328.22"/>
<use href="#lrow" x="1385.08" y="336.30"/>
<use href="#lrow" x="1385.08" y="344.39"/>
<use href="#lrow" x="1385.08" y="352.47"/>
<use href="#lrow" x="1385.08" y="360.55"/>
<use href="#lrow" x="1385.08" y="368.64"/>
<use href="#lrow2" x="1385.08" y="101.87"/>
<use href="#lrow2" x="1385.08" y="109.95"/>
<use href="#lrow2" x="1385.08" y="118.03"/>
<use href="#lrow2" x="1385.08" y="126.12"/>
<use href="#lrow2" x="1385.08" y="134.20"/>
<use href="#lrow2" x="1385.08" y="142.29"/>
<use href="#lrow2" x="1385.08" y="150.37"/>
<use href="#lrow2" x="1385.08" y="158.45"/>
<use href="#lrow2" x="1385.08" y="166.54"/>
<use href="#lrow2" x="1385.08" y="174.62"/>
<use href="#lrow2" x="1385.08" y="182.71"/>
<use href="#lrow2" x="1385.08" y="190.79"/>
<use href="#lrow2" x="1385.08" y="198.87"/>
<use href="#lrow2" x="1385.08" y="206.96"/>
<use href="#lrow2" x="1385.08" y="215.04"/>
<use href="#lrow2" x="1385.08" y="223.13"/>
<use href="#lrow2" x="1385.08" y="231.21"/>
<use href="#lrow2" x="1385.08" y="239.29"/>
<use href="#lrow2" x="1385.08" y="247.38"/>
<use href="#lrow2" x="1385.08" y="255.46"/>
<use href="#lrow2" x="1385.08" y="263.55"/>
<use href="#lrow2" x="1385.08" y="271.63"/>
<use href="#lrow2" x="1385.08" y="279.71"/>
<use href="#lrow2" x="1385.08" y="287.80"/>
<use href="#lrow2" x="1385.08" y="295.88"/>
<use href="#lrow2" x="1385.08" y="303.97"/>
<use href="#lrow2" x="1385.08" y="312.05"/>
<use href="#lrow2" x="1385.08" y="320.13"/>
<use href="#lrow2" x="1385.08" y="328.22"/>
<use href="#lrow2" x="1385.08" y="336.30"/>
<use href="#lrow2" x="1385.08" y="344.39"/>
<use href="#lrow2" x="1385.08" y="352.47"/>
<use href="#lrow2" x="1385.08" y="360.55"/>
<use href="#lrow2" x="1385.08" y="368.64"/>
</g>
<text transform="translate(1636.00,413.00) scale(1.0,1)" font-size="38" text-anchor="middle" fill="#000" stroke="#000" >Vibration mode shapes</text>
<g clip-path="url(#bc1)"><rect x="1363.3" y="431.3" width="132.70" height="76.50" fill="#fbf6f7"/>
<rect x="1391.17" y="446.60" width="76.97" height="45.90" fill="#db2a37" filter="url(#bf1)"/></g>
<g clip-path="url(#bc2)"><rect x="1576" y="432" width="64.00" height="75.00" fill="#fbf6f7"/>
<rect x="1588.16" y="444.75" width="39.68" height="49.50" fill="#db2a37" filter="url(#bf2)"/></g>
<g clip-path="url(#bc3)"><rect x="1644" y="432" width="64.00" height="75.00" fill="#f5f7fb"/>
<rect x="1656.16" y="444.75" width="39.68" height="49.50" fill="#456cb2" filter="url(#bf3)"/></g>
<g clip-path="url(#bc4)"><rect x="1801.4" y="432" width="40.60" height="75.00" fill="#f5f7fb"/>
<rect x="1809.11" y="444.75" width="25.17" height="49.50" fill="#456cb2" filter="url(#bf4)"/></g>
<g clip-path="url(#bc5)"><rect x="1846" y="432" width="44.00" height="75.00" fill="#fbf6f7"/>
<rect x="1854.36" y="444.75" width="27.28" height="49.50" fill="#db2a37" filter="url(#bf5)"/></g>
<g clip-path="url(#bc6)"><rect x="1893.6" y="432" width="40.40" height="75.00" fill="#f5f7fb"/>
<rect x="1901.28" y="444.75" width="25.05" height="49.50" fill="#456cb2" filter="url(#bf6)"/></g>
<text transform="translate(1432.50,538.50) scale(0.96,1)" font-size="38.5" text-anchor="middle" fill="#000" stroke="#000" >1st</text>
<text transform="translate(1639.50,539.00) scale(0.96,1)" font-size="38.5" text-anchor="middle" fill="#000" stroke="#000" >2nd</text>
<text transform="translate(1863.00,541.00) scale(0.96,1)" font-size="38.5" text-anchor="middle" fill="#000" stroke="#000" >3rd</text>
<text transform="translate(1312.30,603.00) scale(1.01,1)" font-size="46.8" text-anchor="start" fill="#000" stroke="#000" >(d)</text>
<rect x="1473.80" y="1004.91" width="30.80" height="9.49" fill="#000" stroke="#000" stroke-width="1"/>
<rect x="1504.60" y="945.57" width="30.80" height="68.83" fill="#85100b" stroke="#000" stroke-width="1"/>
<rect x="1550.50" y="977.21" width="30.80" height="37.19" fill="#000" stroke="#000" stroke-width="1"/>
<rect x="1581.30" y="931.64" width="30.80" height="82.76" fill="#85100b" stroke="#000" stroke-width="1"/>
<rect x="1658.00" y="803.94" width="30.80" height="210.46" fill="#85100b" stroke="#000" stroke-width="1"/>
<rect x="1703.90" y="1000.16" width="30.80" height="14.24" fill="#000" stroke="#000" stroke-width="1"/>
<rect x="1734.70" y="764.38" width="30.80" height="250.02" fill="#85100b" stroke="#000" stroke-width="1"/>
<rect x="1780.60" y="1004.43" width="30.80" height="9.97" fill="#000" stroke="#000" stroke-width="1"/>
<rect x="1811.40" y="682.89" width="30.80" height="331.51" fill="#85100b" stroke="#000" stroke-width="1"/>
<rect x="1857.30" y="992.72" width="30.80" height="21.68" fill="#000" stroke="#000" stroke-width="1"/>
<rect x="1888.10" y="649.66" width="30.80" height="364.74" fill="#85100b" stroke="#000" stroke-width="1"/>
<rect x="1450.6" y="618.8" width="491.9000000000001" height="395.6" fill="none" stroke="#000" stroke-width="1.5"/>
<line x1="1504.60" y1="1014.40" x2="1504.60" y2="1022.40" stroke="#000" stroke-width="1.5" />
<line x1="1504.60" y1="618.80" x2="1504.60" y2="626.80" stroke="#000" stroke-width="1.5" />
<text transform="translate(1504.60,1048.30) scale(1.0,1)" font-size="26.5" text-anchor="middle" fill="#000" stroke="#000" >1</text>
<line x1="1581.30" y1="1014.40" x2="1581.30" y2="1022.40" stroke="#000" stroke-width="1.5" />
<line x1="1581.30" y1="618.80" x2="1581.30" y2="626.80" stroke="#000" stroke-width="1.5" />
<text transform="translate(1581.30,1048.30) scale(1.0,1)" font-size="26.5" text-anchor="middle" fill="#000" stroke="#000" >2</text>
<line x1="1658.00" y1="1014.40" x2="1658.00" y2="1022.40" stroke="#000" stroke-width="1.5" />
<line x1="1658.00" y1="618.80" x2="1658.00" y2="626.80" stroke="#000" stroke-width="1.5" />
<text transform="translate(1658.00,1048.30) scale(1.0,1)" font-size="26.5" text-anchor="middle" fill="#000" stroke="#000" >3</text>
<line x1="1734.70" y1="1014.40" x2="1734.70" y2="1022.40" stroke="#000" stroke-width="1.5" />
<line x1="1734.70" y1="618.80" x2="1734.70" y2="626.80" stroke="#000" stroke-width="1.5" />
<text transform="translate(1734.70,1048.30) scale(1.0,1)" font-size="26.5" text-anchor="middle" fill="#000" stroke="#000" >4</text>
<line x1="1811.40" y1="1014.40" x2="1811.40" y2="1022.40" stroke="#000" stroke-width="1.5" />
<line x1="1811.40" y1="618.80" x2="1811.40" y2="626.80" stroke="#000" stroke-width="1.5" />
<text transform="translate(1811.40,1048.30) scale(1.0,1)" font-size="26.5" text-anchor="middle" fill="#000" stroke="#000" >6</text>
<line x1="1888.10" y1="1014.40" x2="1888.10" y2="1022.40" stroke="#000" stroke-width="1.5" />
<line x1="1888.10" y1="618.80" x2="1888.10" y2="626.80" stroke="#000" stroke-width="1.5" />
<text transform="translate(1888.10,1048.30) scale(1.0,1)" font-size="26.5" text-anchor="middle" fill="#000" stroke="#000" >12</text>
<text transform="translate(1442.00,1022.18) scale(1.0,1)" font-size="26.6" text-anchor="end" fill="#000" stroke="#000" >0</text>
<line x1="1450.60" y1="935.28" x2="1458.60" y2="935.28" stroke="#000" stroke-width="1.5" />
<line x1="1934.50" y1="935.28" x2="1942.50" y2="935.28" stroke="#000" stroke-width="1.5" />
<text transform="translate(1442.00,943.06) scale(1.0,1)" font-size="26.6" text-anchor="end" fill="#000" stroke="#000" >50</text>
<line x1="1450.60" y1="856.16" x2="1458.60" y2="856.16" stroke="#000" stroke-width="1.5" />
<line x1="1934.50" y1="856.16" x2="1942.50" y2="856.16" stroke="#000" stroke-width="1.5" />
<text transform="translate(1442.00,863.94) scale(1.0,1)" font-size="26.6" text-anchor="end" fill="#000" stroke="#000" >100</text>
<line x1="1450.60" y1="777.04" x2="1458.60" y2="777.04" stroke="#000" stroke-width="1.5" />
<line x1="1934.50" y1="777.04" x2="1942.50" y2="777.04" stroke="#000" stroke-width="1.5" />
<text transform="translate(1442.00,784.82) scale(1.0,1)" font-size="26.6" text-anchor="end" fill="#000" stroke="#000" >150</text>
<line x1="1450.60" y1="697.92" x2="1458.60" y2="697.92" stroke="#000" stroke-width="1.5" />
<line x1="1934.50" y1="697.92" x2="1942.50" y2="697.92" stroke="#000" stroke-width="1.5" />
<text transform="translate(1442.00,705.70) scale(1.0,1)" font-size="26.6" text-anchor="end" fill="#000" stroke="#000" >200</text>
<text transform="translate(1442.00,626.58) scale(1.0,1)" font-size="26.6" text-anchor="end" fill="#000" stroke="#000" >250</text>
<text transform="translate(1696.50,1087.00) scale(0.98,1)" font-size="34.3" text-anchor="middle" fill="#000" stroke="#000" >Number of Layers</text>
<text transform="translate(1391.3,814.9) rotate(-90) scale(0.985,1)" font-size="34" text-anchor="middle" stroke="#000">Frequency error (%)</text>
<rect x="1504.6" y="670.7" width="64.4" height="32.2" fill="#000"/>
<rect x="1505.1" y="706.8" width="63.4" height="31.2" fill="#85100b" stroke="#111" stroke-width="1"/>
<text transform="translate(1576.00,697.30) scale(1.0,1)" font-size="29" text-anchor="start" fill="#000" stroke="#000" >CGNEP</text>
<text transform="translate(1576.00,732.80) scale(1.0,1)" font-size="29" text-anchor="start" fill="#000" stroke="#000" >NEP-CG</text>
</svg></body></html>
